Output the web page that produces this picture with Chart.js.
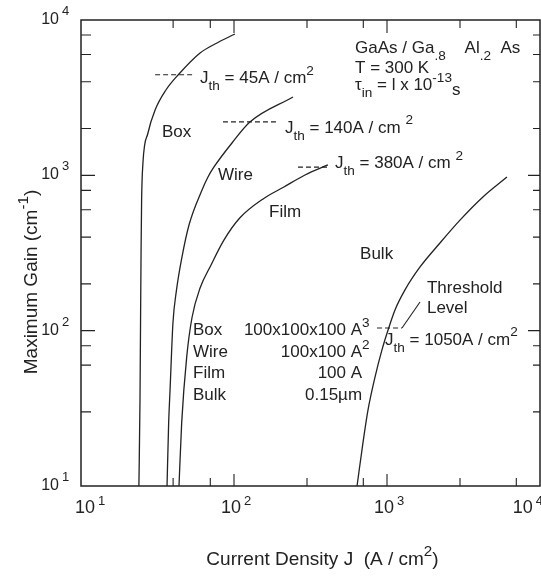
<!DOCTYPE html>
<html>
<head>
<meta charset="utf-8">
<script src="https://cdn.jsdelivr.net/npm/chart.js@4"></script>
<style>
  html, body { margin: 0; padding: 0; background: #fff; }
  canvas { display: block; }
</style>
</head>
<body>
<canvas id="gain" width="541" height="576"></canvas>
<script>
// current density J (A/cm2) vs maximum gain (1/cm)
const boxJ     = [23.9, 24.3, 24.5, 24.7, 24.9, 25.4, 27.4, 30.5, 35.9, 43.1, 60.0, 75.1, 101.5];
const boxGain  = [10, 35.8, 112, 331, 694, 1200, 1873, 2634, 3543, 4426, 6133, 7006, 8126];
const wireJ    = [36.5, 37.4, 38.2, 39.9, 42.1, 45.7, 50.8, 61.8, 67.6, 74.0, 97.0, 127, 243];
const wireGain = [10, 25.4, 41.5, 112, 183, 298, 479, 805, 976, 1132, 1615, 2205, 3194];
const filmJ    = [43.7, 45.5, 49.1, 53.2, 60.0, 70.8, 86.1, 109, 155, 212, 291, 411];
const filmGain = [10, 25.5, 68, 122, 188, 265, 384, 531, 705, 841, 1005, 1167];
const bulkJ    = [637, 696, 751, 835, 927, 1016, 1128, 1311, 1644, 2219, 2999, 4236, 6080];
const bulkGain = [10, 18.9, 30.8, 50.3, 75.2, 101, 136, 183, 257, 367, 515, 726, 975];

// threshold levels (dashed) and the leader to the "Threshold Level" note
const th45J = [30.5, 55.6],  th45Gain = [4440, 4440];
const th140J = [84.7, 194],  th140Gain = [2210, 2210];
const th380J = [262, 424],   th380Gain = [1130, 1130];
const th1050J = [861, 1253], th1050Gain = [104, 104];
const leaderJ = [1253, 1644], leaderGain = [104, 153];

// axes
const axisMin = 10, axisMax = 10000;
const decadeTicks = [10, 100, 1000, 10000];
const decadeLabels = ['1', '2', '3', '4'];

const FONT = '"Liberation Sans", Arial, Helvetica, sans-serif';
const INK = '#222';

const pairs = (xs, ys) => xs.map((x, i) => ({ x, y: ys[i] }));
const curve = (xs, ys) => ({
  data: pairs(xs, ys), borderColor: INK, borderWidth: 1.3,
  pointRadius: 0, cubicInterpolationMode: 'monotone'
});
const dashed = (xs, ys) => ({
  data: pairs(xs, ys), borderColor: INK, borderWidth: 1.1,
  borderDash: [5, 3], pointRadius: 0
});
const solid = (xs, ys) => ({
  data: pairs(xs, ys), borderColor: INK, borderWidth: 1.1, pointRadius: 0
});

// text notes, placed at [log10 J, log10 gain]
const notes = [
  { at: [1.778, 3.594], size: 17, parts: [['J'], ['th', 'sub'], [' = 45A / cm'], ['2', 'sup']] },
  { at: [2.333, 3.273], size: 17, parts: [['J'], ['th', 'sub'], [' = 140A / cm '], ['2', 'sup']] },
  { at: [2.660, 3.047], size: 17, parts: [['J'], ['th', 'sub'], [' = 380A / cm '], ['2', 'sup']] },
  { at: [2.987, 1.908], size: 17, parts: [['J'], ['th', 'sub'], [' = 1050A / cm'], ['2', 'sup']] },
  { at: [2.791, 3.788], size: 17, parts: [['GaAs / Ga'], ['.8', 'sub'], ['    Al'], ['.2', 'sub'], ['  As']] },
  { at: [2.791, 3.659], size: 17, parts: [['T = 300 K']] },
  { at: [2.791, 3.549], size: 17, parts: [['τ'], ['in', 'sub'], [' = l x 10'], ['-13', 'sup'], ['s', 'low']] },
  { at: [1.529, 3.247], size: 17, parts: [['Box']] },
  { at: [1.895, 2.970], size: 17, parts: [['Wire']] },
  { at: [2.229, 2.732], size: 17, parts: [['Film']] },
  { at: [2.824, 2.461], size: 17, parts: [['Bulk']] },
  { at: [3.261, 2.243], size: 17, parts: [['Threshold']] },
  { at: [3.261, 2.114], size: 17, parts: [['Level']] },
  { at: [1.732, 1.972], size: 17, parts: [['Box']] },
  { at: [1.732, 1.830], size: 17, parts: [['Wire']] },
  { at: [1.732, 1.695], size: 17, parts: [['Film']] },
  { at: [1.732, 1.554], size: 17, parts: [['Bulk']] },
  { at: [2.837, 1.972], size: 17, anchor: 1, parts: [['100x100x100 A'], ['3', 'sup']] },
  { at: [2.837, 1.830], size: 17, anchor: 1, parts: [['100x100 A'], ['2', 'sup']] },
  { at: [2.837, 1.695], size: 17, anchor: 1, parts: [['100 A']] },
  { at: [2.837, 1.554], size: 17, anchor: 1, parts: [['0.15µm']] }
];

function setFont(ctx, size) { ctx.font = size + 'px ' + FONT; }

function rich(ctx, x, y, parts, size, anchor) {
  const small = size * 0.8;
  const sizeOf = k => (k === 'sub' || k === 'sup') ? small : size;
  const widths = parts.map(([t, k]) => { setFont(ctx, sizeOf(k)); return ctx.measureText(t).width; });
  const sum = a => a.reduce((s, w) => s + w, 0);
  let cx = x;
  if (anchor === 'center') cx -= sum(widths) / 2;
  else if (typeof anchor === 'number') cx -= sum(widths.slice(0, anchor));
  parts.forEach(([t, k], i) => {
    setFont(ctx, sizeOf(k));
    const dy = k === 'sub' ? size * 0.4 : k === 'sup' ? -size * 0.5 : k === 'low' ? size * 0.28 : 0;
    ctx.fillText(t, cx, y + dy);
    cx += widths[i];
  });
  return cx;
}

const isDecade = v => Math.abs(Math.log10(v) - Math.round(Math.log10(v))) < 1e-9;

const decor = {
  id: 'decor',
  afterDraw(chart) {
    const { ctx, chartArea: a, scales: { x, y } } = chart;
    ctx.save();
    ctx.strokeStyle = INK;
    ctx.fillStyle = INK;
    ctx.textBaseline = 'alphabetic';

    // frame
    ctx.lineWidth = 1.5;
    ctx.strokeRect(a.left, a.top, a.right - a.left, a.bottom - a.top);

    // inward ticks on all four sides
    ctx.lineWidth = 1.1;
    ctx.beginPath();
    x.ticks.forEach(t => {
      if (t.value <= x.min || t.value >= x.max) return;
      const p = x.getPixelForValue(t.value);
      const big = isDecade(t.value);
      ctx.moveTo(p, a.bottom); ctx.lineTo(p, a.bottom - (big ? 12 : 8));
      ctx.moveTo(p, a.top); ctx.lineTo(p, a.top + (big ? 13 : 8));
    });
    y.ticks.forEach(t => {
      if (t.value <= y.min || t.value >= y.max) return;
      const p = y.getPixelForValue(t.value);
      const big = isDecade(t.value);
      ctx.moveTo(a.left, p); ctx.lineTo(a.left + (big ? 14 : 10), p);
      ctx.moveTo(a.right, p); ctx.lineTo(a.right - (big ? 12 : 7), p);
    });
    ctx.stroke();

    // tick labels 10^n
    decadeTicks.forEach((v, i) => {
      setFont(ctx, 18);
      const w10 = ctx.measureText('10').width;
      setFont(ctx, 13);
      const we = ctx.measureText(decadeLabels[i]).width;
      let left = x.getPixelForValue(v) - 3 - w10 / 2;
      left = Math.max(75, Math.min(left, 543 - w10 - 3 - we));
      setFont(ctx, 18);
      ctx.fillText('10', left, a.bottom + 27);
      setFont(ctx, 13);
      ctx.fillText(decadeLabels[i], left + w10 + 3, a.bottom + 19);
    });
    decadeTicks.forEach((v, i) => {
      const p = y.getPixelForValue(v);
      setFont(ctx, 16);
      ctx.textAlign = 'right';
      ctx.fillText('10', a.left - 22, p + 4);
      ctx.textAlign = 'left';
      setFont(ctx, 13);
      ctx.fillText(decadeLabels[i], a.left - 19, p - 5);
    });

    // axis titles
    rich(ctx, (a.left + a.right) / 2 + 12, a.bottom + 79,
      [['Current Density J  (A / cm'], ['2', 'sup'], [')']], 19, 'center');
    ctx.save();
    ctx.translate(37, (a.top + a.bottom) / 2 + 29);
    ctx.rotate(-Math.PI / 2);
    rich(ctx, 0, 0, [['Maximum Gain (cm'], ['-1', 'sup'], [')']], 19, 'center');
    ctx.restore();

    // notes
    notes.forEach(n => {
      const px = x.getPixelForValue(10 ** n.at[0]);
      const py = y.getPixelForValue(10 ** n.at[1]);
      rich(ctx, px, py, n.parts, n.size, n.anchor);
    });
    ctx.restore();
  }
};

new Chart(document.getElementById('gain'), {
  type: 'line',
  data: {
    datasets: [
      curve(boxJ, boxGain),
      curve(wireJ, wireGain),
      curve(filmJ, filmGain),
      curve(bulkJ, bulkGain),
      dashed(th45J, th45Gain),
      dashed(th140J, th140Gain),
      dashed(th380J, th380Gain),
      dashed(th1050J, th1050Gain),
      solid(leaderJ, leaderGain)
    ]
  },
  options: {
    responsive: false,
    devicePixelRatio: 1,
    animation: false,
    events: [],
    layout: { padding: { left: 81, right: 1, top: 20, bottom: 90 } },
    plugins: { legend: { display: false }, tooltip: { enabled: false } },
    scales: {
      x: { type: 'logarithmic', min: axisMin, max: axisMax, display: false },
      y: { type: 'logarithmic', min: axisMin, max: axisMax, display: false }
    }
  },
  plugins: [decor]
});
</script>
</body>
</html>
